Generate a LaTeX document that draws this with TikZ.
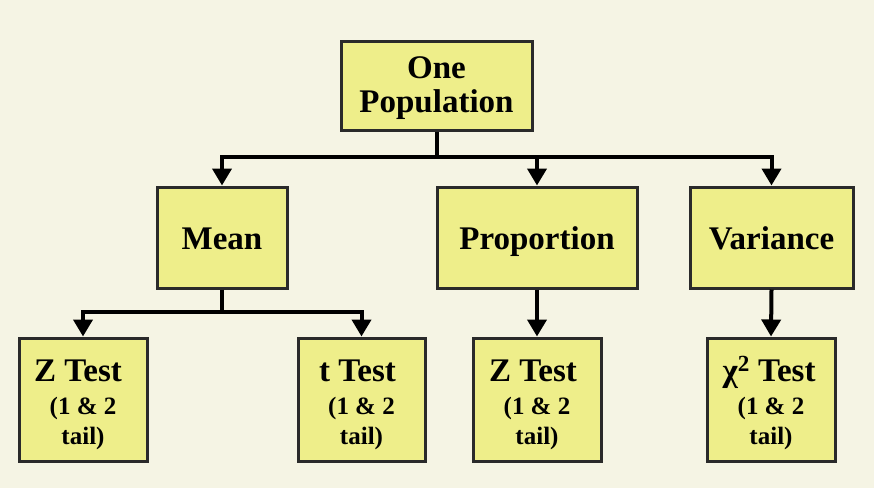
\documentclass[tikz,border=0pt]{standalone}
\usepackage{fontspec}
\setmainfont{Liberation Serif}
\usetikzlibrary{arrows.meta}
\definecolor{bgc}{HTML}{F5F4E4}
\definecolor{boxc}{HTML}{EEEE8A}
\definecolor{edgec}{HTML}{2A2A2A}
\newcommand{\bigf}{\fontsize{33}{34}\selectfont}
\newcommand{\smallf}{\fontsize{25}{30}\selectfont}
\begin{document}
\begin{tikzpicture}[x=1pt,y=-1pt,
  box/.style={draw=edgec,line width=3pt,fill=boxc,inner sep=0pt,align=center},
  bigbox/.style={box,font=\bfseries\bigf},
  midbox/.style={bigbox,minimum height=101pt,text height=23pt,text depth=0pt},
  testbox/.style={box,font=\bfseries\smallf,minimum width=128pt,minimum height=123pt,text height=89pt,text depth=0pt},
  conn/.style={line width=4pt,black},
  arr/.style={conn,-{Triangle[width=19pt,length=17pt]}}]
\fill[bgc] (0,0) rectangle (874,488);
\useasboundingbox (0,0) rectangle (874,488);
\node[bigbox,minimum width=191pt,minimum height=89pt,text height=53pt,text depth=0pt] (top) at (436.5,85.5) {One\\Population};
\node[midbox,minimum width=130pt] (mean) at (222,237.5) {Mean};
\node[midbox,minimum width=200pt] (prop) at (537,237.5) {Proportion};
\node[midbox,minimum width=163pt] (var) at (771.5,237.5) {Variance};
\node[testbox] (z1) at (83,399.5) {\bigf Z Test\hspace*{10pt}\\[3pt](1 \& 2\\tail)};
\node[testbox,minimum width=127pt] (t) at (361.5,399.5) {\bigf t Test\hspace*{8pt}\\[3pt](1 \& 2\\tail)};
\node[testbox] (z2) at (537,399.5) {\bigf Z Test\hspace*{8pt}\\[3pt](1 \& 2\\tail)};
\node[testbox] (chi) at (771,399.5) {\bigf χ\textsuperscript{2} Test\hspace*{4pt}\\[3pt](1 \& 2\\tail)};
\draw[conn] (top.south) -- ++(0,25) coordinate (j1);
\draw[arr] (j1) -| (mean.north);
\draw[arr] (j1) -| (var.north);
\draw[arr] (j1 -| prop.north) -- (prop.north);
\draw[conn] (mean.south) -- ++(0,22) coordinate (j2);
\draw[arr] (j2) -| (z1.north);
\draw[arr] (j2) -| (t.north);
\draw[arr] (prop.south) -- (z2.north);
\draw[arr] (var.south) -- (chi.north);
\end{tikzpicture}
\end{document}
